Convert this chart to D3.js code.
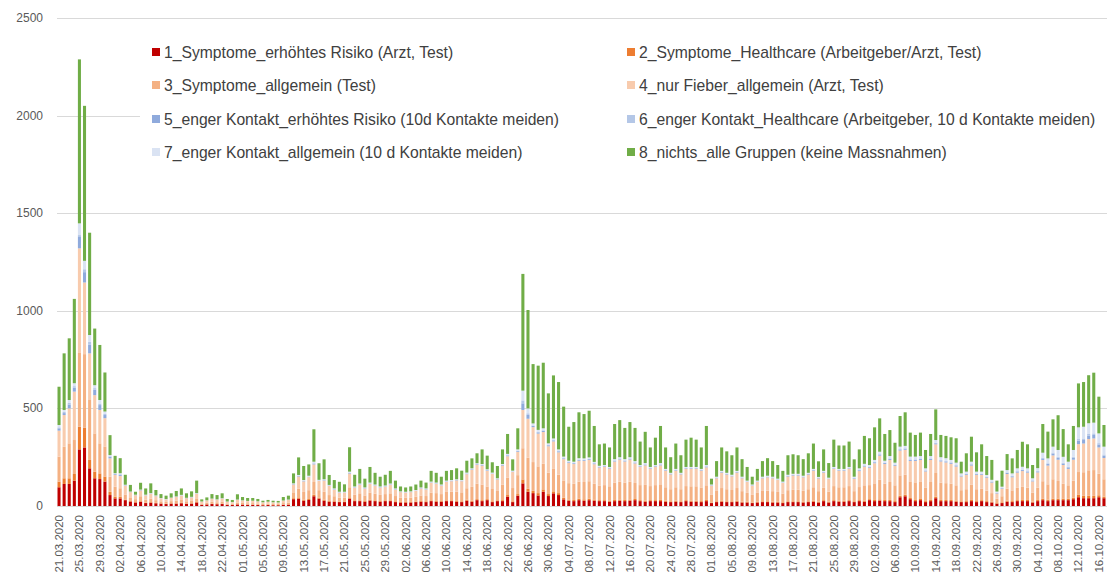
<!DOCTYPE html>
<html>
<head>
<meta charset="utf-8">
<script src="https://cdn.jsdelivr.net/npm/d3@7"></script>
<style>
  body { margin: 0; background: #fff; }
  svg { display: block; font-family: "Liberation Sans", Arial, sans-serif; }
</style>
</head>
<body>
<svg id="chart" width="1107" height="580"></svg>
<script>
// days on the category axis (some late-April days are missing in the source)
var dayRanges = [["2020-03-21", "2020-04-25"], ["2020-05-01", "2020-10-17"]];
var yTicks = [0, 500, 1000, 1500, 2000, 2500];

var seriesNames = [
  "1_Symptome_erhöhtes Risiko (Arzt, Test)",
  "2_Symptome_Healthcare (Arbeitgeber/Arzt, Test)",
  "3_Symptome_allgemein (Test)",
  "4_nur Fieber_allgemein (Arzt, Test)",
  "5_enger Kontakt_erhöhtes Risiko (10d Kontakte meiden)",
  "6_enger Kontakt_Healthcare (Arbeitgeber, 10 d Kontakte meiden)",
  "7_enger Kontakt_allgemein (10 d Kontakte meiden)",
  "8_nichts_alle Gruppen (keine Massnahmen)"
];
var seriesColors = ["#c00000", "#ed7d31", "#f4b183", "#f8cbad", "#8faadc", "#b4c7e7", "#dae3f3", "#70ad47"];

// one value per day
var s1 = [96,113,113,130,290,300,193,142,138,125,56,39,39,30,23,18,22,
  15,17,14,12,10,12,12,14,11,12,18,6,8,10,9,10,6,5,8,7,6,6,5,4,5,4,4,6,7,
  35,38,27,31,50,38,27,22,22,20,20,38,
  25,25,22,28,25,22,25,25,20,18,18,18,20,22,20,25,22,22,25,
  25,22,20,27,22,30,25,30,20,25,25,48,20,53,
  116,73,66,54,73,51,65,56,34,27,25,30,27,30,27,
  25,25,22,25,27,25,27,30,25,22, 25,25,25,22,20,22,20,25,22,22, 20,25,15,20,22,20,20,22,18,18,
  15,18,20,20,18,18,15,20,20,20, 18,20,22,18,25,18,25,22,22,25,
  20,25,22,30,25,28,25,25,20,45, 50,35,25,30,20,25,40,25,25,25, 22,20,20,25,20,25,20,18,12,15,
  22,20,25,25,25,18,25,30,25,30, 30,30,30,35,45,40,40,40,45,40];
var s2 = [29,29,29,34,116,102,43,34,29,26,17,9,9,3,3,2,3,
  2,3,2,2,2,2,2,2,2,2,3,1,1,2,1,2,1,1,1,1,1,1,1,1,1,1,1,1,1,
  5,6,5,5,8,5,5,4,3,3,3,6,
  4,4,4,5,4,4,4,4,4,3,3,3,3,4,4,4,4,4,4,
  4,4,4,5,5,5,5,5,4,4,5,8,4,8,
  20,15,12,12,12,10,10,10,8,6,6,7,7,7,6,
  5,5,5,6,6,6,6,6,5,5, 5,5,6,5,4,5,4,5,5,5, 5,6,3,4,5,4,4,5,4,4,
  3,4,4,4,4,4,4,4,4,4, 4,4,5,4,5,4,5,5,5,5,
  4,5,5,5,6,6,6,6,5,8, 8,6,6,6,5,6,8,6,6,6, 6,4,5,6,5,5,5,4,3,4,
  5,5,5,6,6,4,6,8,7,8, 8,8,7,8,12,12,12,12,10,8];
var s3 = [128,162,179,174,378,376,307,196,154,154,77,51,43,26,15,15,25,
  15,18,14,10,9,11,13,15,11,12,18,6,8,10,9,11,6,5,9,8,7,8,7,5,6,5,5,8,9,
  30,45,40,45,65,38,42,30,25,20,20,52,
  29,36,28,36,34,31,32,36,27,22,22,22,25,28,27,40,40,35,43,
  44,47,46,59,71,79,80,65,63,48,80,90,68,97,
  160,160,147,137,132,110,115,94,89,84,83,88,89,90,81,
  75,77,74,89,92,89,92,82,77,81, 72,77,80,69,62,69,62,72,74,74, 70,75,39,53,65,62,58,65,54,45,
  39,45,53,55,54,50,45,57,59,59, 56,62,69,54,63,52,72,69,69,72,
  52,67,79,72,85,101,83,92,81,104, 103,85,90,90,68,92,121,89,86,83, 78,57,61,79,61,58,54,44,22,31,
  62,55,63,67,63,47,63,89,79,99, 90,77,69,87,117,121,131,132,110,89];
var s4 = [133,162,179,248,536,367,239,196,171,145,94,60,63,45,30,20,30,
  22,24,20,15,13,16,19,22,16,18,23,9,11,14,13,15,9,8,13,12,11,11,10,8,9,8,7,12,14,
  40,62,54,67,90,47,56,47,34,25,26,70,
  36,44,35,44,41,37,38,44,33,28,26,28,30,35,33,50,48,43,52,
  54,58,57,72,87,97,97,80,77,59,97,109,82,119,
  196,199,179,168,162,135,141,115,109,103,101,107,108,109,100,
  92,94,90,108,113,108,113,100,94,100, 89,94,97,85,76,85,76,89,90,90, 86,92,47,65,79,75,70,79,66,56,
  47,56,65,68,66,61,54,70,73,73, 69,75,85,65,78,64,88,85,85,88,
  63,82,96,89,103,123,101,113,100,127, 127,105,110,110,84,113,147,108,106,102, 96,70,74,97,74,72,66,54,27,38,
  75,67,78,81,77,57,78,109,96,122, 109,95,84,107,143,147,160,162,135,109];
var s5 = [12,10,20,20,58,53,45,28,25,16,8,4,6,2,1,1,2,
  1,1,1,1,1,1,1,1,1,1,1,0,0,1,1,1,0,0,1,0,0,0,0,0,0,0,0,0,1,
  2,3,2,2,4,2,2,2,2,2,1,3,
  2,2,2,2,2,2,2,2,2,1,1,1,1,2,2,2,2,2,2,
  2,2,2,3,3,3,3,3,2,2,3,4,2,4,
  34,20,6,6,6,5,5,5,4,4,4,4,4,4,4,
  3,3,3,4,4,4,4,4,3,4, 3,3,4,3,3,3,3,3,3,3, 3,4,2,3,3,3,3,3,3,2,
  2,2,3,3,3,2,2,3,3,3, 3,3,3,3,3,2,3,3,3,3,
  3,4,4,4,5,5,5,5,4,5, 5,5,5,5,4,5,5,5,5,5, 5,4,4,5,4,4,4,4,3,3,
  5,5,5,5,5,4,5,8,8,10, 10,8,8,10,18,18,18,18,15,12];
var s6 = [5,6,8,8,10,15,14,8,8,6,3,2,3,1,1,1,1,
  1,1,1,0,0,0,1,1,0,1,1,0,0,0,0,0,0,0,0,0,0,0,0,0,0,0,0,0,0,
  1,1,1,1,2,1,1,1,1,1,1,1,
  1,1,1,1,1,1,1,1,1,1,1,1,1,1,1,1,1,1,1,
  1,1,1,1,1,1,1,1,1,1,1,2,1,2,
  15,8,3,3,3,2,2,2,2,2,2,2,2,2,2,
  1,1,1,2,2,2,2,2,1,2, 1,1,2,1,1,1,1,1,1,1, 1,2,1,1,1,1,1,1,1,1,
  1,1,1,1,1,1,1,1,1,1, 1,1,1,1,1,1,1,1,1,1,
  2,2,2,2,2,3,2,3,2,3, 3,3,3,3,2,3,3,3,3,3, 3,2,2,3,2,2,2,2,1,2,
  3,3,3,3,3,2,3,4,4,5, 5,4,4,5,8,8,8,8,7,6];
var s7 = [12,10,15,15,60,43,35,15,18,12,6,3,5,2,1,1,1,
  2,2,2,1,1,1,1,2,1,1,2,1,1,1,1,1,1,1,1,1,1,1,1,1,1,1,1,1,1,
  3,4,4,4,8,3,4,2,3,2,2,6,
  3,3,3,4,3,3,3,3,3,2,2,2,2,3,3,3,3,3,3,
  3,3,3,4,4,4,4,4,4,3,4,6,4,7,
  50,25,10,10,10,8,8,8,7,6,6,7,7,7,6,
  5,5,5,6,6,6,6,6,5,6, 5,5,6,5,4,5,4,5,5,5, 5,6,3,4,5,5,4,5,4,4,
  3,4,4,4,4,4,4,5,5,5, 4,5,5,4,5,4,6,5,5,6,
  6,8,8,8,10,12,10,12,10,12, 12,14,14,12,10,12,14,14,14,12, 12,10,10,12,10,10,8,8,6,6,
  12,12,14,14,14,10,14,25,25,30, 35,30,25,35,60,60,55,55,50,40];
var s8 = [196,290,316,432,840,794,524,290,282,200,102,89,77,51,34,15,35,
  32,50,28,20,17,22,28,33,23,28,64,11,15,23,22,25,13,11,27,17,15,14,12,8,9,8,8,18,20,
  51,90,72,58,166,85,102,51,43,51,38,125,
  60,75,45,80,60,50,55,65,40,25,22,25,28,35,30,55,50,40,50,
  51,56,48,61,51,51,75,70,53,63,75,102,58,108,
  598,504,304,329,336,256,323,345,256,174,203,235,227,239,184,
  110,110,100,180,190,160,180,170,120,160, 100,140,190,110,80,130,90,140,150,140, 110,200,30,80,120,110,100,120,90,70,
  40,60,80,90,80,70,55,100,100,95, 85,100,130,80,110,75,140,120,120,130,
  89,97,143,137,167,171,137,133,102,157, 172,123,111,120,94,113,157,114,114,116, 125,60,94,128,99,140,97,102,56,82,
  82,77,94,128,123,68,102,147,137,140, 178,142,89,123,225,229,246,256,188,111];

var series = [s1, s2, s3, s4, s5, s6, s7, s8];

var parseDay = d3.timeParse("%Y-%m-%d");
var fmtDay = d3.timeFormat("%d.%m.%Y");
var days = [];
dayRanges.forEach(function(r){
  d3.timeDay.range(parseDay(r[0]), d3.timeDay.offset(parseDay(r[1]), 1))
    .forEach(function(d){ days.push(fmtDay(d)); });
});

var rows = days.map(function(day, i){
  var row = {day: day};
  series.forEach(function(s, k){ row["s" + k] = s[i] || 0; });
  return row;
});
var keys = series.map(function(s, k){ return "s" + k; });
var stacked = d3.stack().keys(keys)(rows);

var svg = d3.select("#chart");
var plotLeft = 57, plotRight = 1106, plotTop = 18, plotBottom = 506;

var x = d3.scaleBand().domain(days).range([plotLeft, plotRight]).paddingInner(0.4).paddingOuter(0.1);
var y = d3.scaleLinear().domain([0, 2500]).range([plotBottom, plotTop]);

// gridlines + y labels
svg.append("g").selectAll("line").data(yTicks).join("line")
  .attr("x1", plotLeft).attr("x2", 1107)
  .attr("y1", function(d){ return Math.round(y(d)) + 0.5; })
  .attr("y2", function(d){ return Math.round(y(d)) + 0.5; })
  .attr("stroke", "#d9d9d9").attr("stroke-width", 1);

svg.append("g").selectAll("text").data(yTicks).join("text")
  .attr("x", 43).attr("y", function(d){ return y(d); })
  .attr("text-anchor", "end").attr("dominant-baseline", "central")
  .attr("font-size", 12).attr("fill", "#595959")
  .text(function(d){ return d; });

// stacked bars
svg.append("g").selectAll("g").data(stacked).join("g")
  .attr("fill", function(d, k){ return seriesColors[k]; })
  .selectAll("rect").data(function(d){ return d; }).join("rect")
  .attr("x", function(d){ return x(d.data.day); })
  .attr("width", x.bandwidth())
  .attr("y", function(d){ return y(d[1]); })
  .attr("height", function(d){ return Math.max(0, y(d[0]) - y(d[1])); });

// x labels, every 4th day
svg.append("g").selectAll("text")
  .data(days.filter(function(d, i){ return i % 4 === 0; }))
  .join("text")
  .attr("transform", function(d){
    return "translate(" + (x(d) + x.bandwidth() / 2) + "," + (plotBottom + 9) + ") rotate(-90)";
  })
  .attr("text-anchor", "end").attr("dominant-baseline", "central")
  .attr("font-size", 11.5).attr("fill", "#595959")
  .text(function(d){ return d; });

// legend
var legend = svg.append("g");
legend.append("rect").attr("x", 140).attr("y", 33).attr("width", 967).attr("height", 140).attr("fill", "#fff");
var rowY = [52, 85, 119, 152];
var colX = [152, 627];
seriesNames.forEach(function(name, k){
  var lx = colX[k % 2], ly = rowY[Math.floor(k / 2)];
  legend.append("rect").attr("x", lx).attr("y", ly - 4).attr("width", 8).attr("height", 8)
    .attr("fill", seriesColors[k]);
  legend.append("text").attr("x", lx + 12).attr("y", ly)
    .attr("dominant-baseline", "central").attr("font-size", 15.7).attr("fill", "#404040")
    .text(name);
});
</script>
</body>
</html>
